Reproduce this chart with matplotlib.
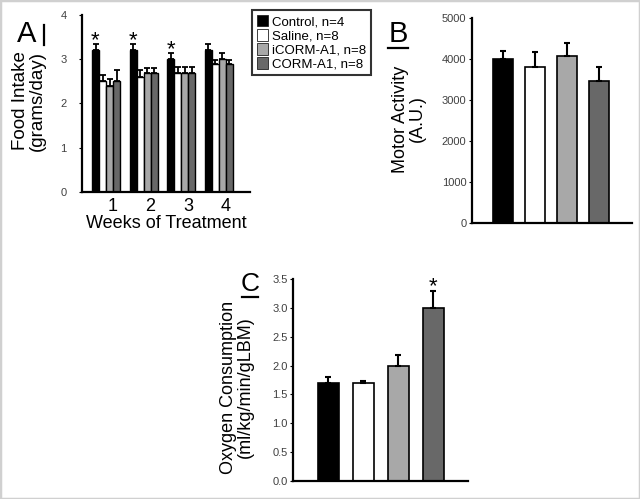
import numpy as np
import matplotlib
matplotlib.use("Agg")
import matplotlib.pyplot as plt
from matplotlib.patches import Patch, Rectangle
from matplotlib.lines import Line2D

plt.rcParams['font.family'] = ['Liberation Sans', 'DejaVu Sans']

groups = ["Control, n=4", "Saline, n=8", "iCORM-A1, n=8", "CORM-A1, n=8"]
colors = ["#000000", "#ffffff", "#a8a8a8", "#686868"]

# panel A: food intake per week
weeks = ["1", "2", "3", "4"]
food = [[3.2, 3.2, 3.0, 3.2],
        [2.5, 2.6, 2.7, 2.9],
        [2.4, 2.7, 2.7, 3.0],
        [2.5, 2.7, 2.7, 2.9]]
food_err = [[0.15, 0.15, 0.15, 0.15],
            [0.15, 0.15, 0.13, 0.08],
            [0.15, 0.1, 0.13, 0.15],
            [0.25, 0.1, 0.13, 0.08]]
food_star = [True, True, True, False]

# panel B: motor activity
motor = [4000, 3800, 4080, 3460]
motor_err = [200, 370, 310, 340]

# panel C: oxygen consumption
oxy = [1.7, 1.7, 2.0, 3.0]
oxy_err = [0.1, 0.04, 0.18, 0.3]
oxy_star = [False, False, False, True]

W, H = 640, 499
fig = plt.figure(figsize=(6.4, 4.99), dpi=100)

def px_axes(l, t, r, b):
    return fig.add_axes([l / W, 1 - b / H, (r - l) / W, (b - t) / H])

def style(ax):
    for s in ['top', 'right']:
        ax.spines[s].set_visible(False)
    for s in ['left', 'bottom']:
        ax.spines[s].set_linewidth(1.6)
    ax.tick_params(axis='y', labelsize=8, labelcolor='#404040', length=2, width=0.8, pad=2)

# ---- A ----
axA = px_axes(82, 15, 250, 192)
style(axA)
gap = 5.36
for k in range(4):
    xs = np.arange(4) * gap + k
    axA.bar(xs, food[k], width=1.0, color=colors[k], edgecolor='black', linewidth=1.0)
    axA.errorbar(xs, food[k], yerr=[np.zeros(4), food_err[k]], fmt='none', ecolor='black',
                 elinewidth=1.3, capsize=2, capthick=1.3)
for w in range(4):
    if food_star[w]:
        axA.text(w * gap, food[0][w] + food_err[0][w] - 0.16, "*", ha='center', va='bottom', fontsize=16)
axA.set_xlim(-1.93, 22.07)
axA.set_ylim(0, 4)
axA.set_yticks([0, 1, 2, 3, 4])
axA.tick_params(axis='y', pad=9)
axA.set_xticks(np.arange(4) * gap + 2.5)
axA.set_xticklabels(weeks, fontsize=13)
axA.tick_params(axis='x', length=0, pad=4)
axA.set_xlabel("Weeks of Treatment", fontsize=13, labelpad=0)
fig.text(29 / W, 1 - 101 / H, "Food Intake\n(grams/day)", rotation=90, ha='center', va='center',
         fontsize=13.5, linespacing=0.95)
fig.text(27 / W, 1 - 34 / H, "A", ha='center', va='center', fontsize=21)
fig.add_artist(Line2D([44 / W, 44 / W], [1 - 25 / H, 1 - 45 / H], color='black', lw=1.6))

# ---- B ----
axB = px_axes(472, 18, 632, 223)
style(axB)
xb = np.arange(4)
axB.bar(xb, motor, width=0.625, color=colors, edgecolor='black', linewidth=1.2)
axB.errorbar(xb, motor, yerr=[np.zeros(4), motor_err], fmt='none', ecolor='black',
             elinewidth=1.5, capsize=2.5, capthick=1.5)
axB.set_xlim(-0.97, 4.03)
axB.set_ylim(0, 5000)
axB.set_yticks([0, 1000, 2000, 3000, 4000, 5000])
axB.set_xticks([])
fig.text(409 / W, 1 - 119 / H, "Motor Activity\n(A.U.)", rotation=90, ha='center', va='center',
         fontsize=13, linespacing=1.0)
fig.text(398 / W, 1 - 34 / H, "B", ha='center', va='center', fontsize=21)
fig.add_artist(Line2D([388 / W, 408 / W], [1 - 48 / H, 1 - 48 / H], color='black', lw=1.6))

# ---- C ----
axC = px_axes(293, 279, 468, 481)
style(axC)
xc = np.arange(4)
axC.bar(xc, oxy, width=0.6, color=colors, edgecolor='black', linewidth=1.2)
axC.errorbar(xc, oxy, yerr=[np.zeros(4), oxy_err], fmt='none', ecolor='black',
             elinewidth=1.5, capsize=2.5, capthick=1.5)
for i in range(4):
    if oxy_star[i]:
        axC.text(xc[i], oxy[i] + oxy_err[i] - 0.12, "*", ha='center', va='bottom', fontsize=16)
axC.set_xlim(-1.01, 3.99)
axC.set_ylim(0, 3.5)
axC.set_yticks(np.arange(0, 3.51, 0.5))
axC.set_yticklabels([f"{v:.1f}" for v in np.arange(0, 3.51, 0.5)])
axC.set_xticks([])
fig.text(237 / W, 1 - 387 / H, "Oxygen Consumption\n(ml/kg/min/gLBM)", rotation=90, ha='center',
         va='center', fontsize=13, linespacing=1.0)
fig.text(250 / W, 1 - 284 / H, "C", ha='center', va='center', fontsize=19)
fig.add_artist(Line2D([242 / W, 258 / W], [1 - 297 / H, 1 - 297 / H], color='black', lw=1.6))

# legend
handles = [Patch(facecolor=c, edgecolor='#202020', linewidth=0.6) for c in colors]
leg = fig.legend(handles, groups, loc='upper left', bbox_to_anchor=(252 / W, 1 - 10 / H),
                 fontsize=9.5, frameon=True, fancybox=False, edgecolor='black',
                 handlelength=0.85, handleheight=1.0, handletextpad=0.35, labelspacing=0.05,
                 borderpad=0.35, borderaxespad=0)
leg.get_frame().set_linewidth(1.5)

fig.patches.append(Rectangle((0, 0), 1, 1, transform=fig.transFigure, fill=False,
                             edgecolor='#d0d0d0', lw=2.5))

fig.savefig("out.png", dpi=100)
